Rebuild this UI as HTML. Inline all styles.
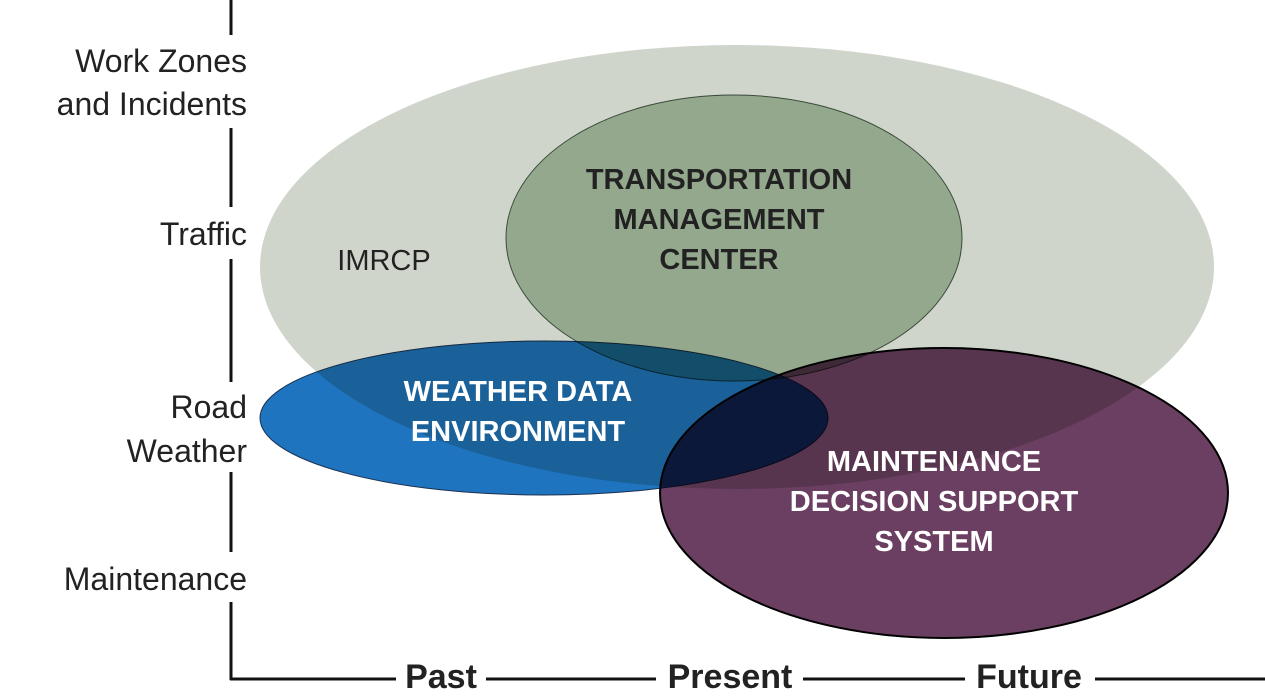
<!DOCTYPE html>
<html><head><meta charset="utf-8"><style>
html,body{margin:0;padding:0;background:#fff;}
svg{display:block;}
text{font-family:"Liberation Sans",sans-serif;}
</style></head><body>
<svg width="1265" height="699" viewBox="0 0 1265 699" xmlns="http://www.w3.org/2000/svg">
<rect width="1265" height="699" fill="#fff"/>
<g style="isolation:isolate">
<ellipse cx="737" cy="267" rx="477" ry="222" fill="#d0d5cc"/>
<ellipse cx="734" cy="238" rx="228" ry="143" fill="#94a88e" stroke="#3a4a3a" stroke-width="1"/>
<ellipse cx="544" cy="418" rx="284" ry="77" fill="#1f74bf" stroke="#1a3050" stroke-width="1" style="mix-blend-mode:multiply"/>
<ellipse cx="944" cy="493" rx="284" ry="145" fill="#6a3f61" stroke="#000" stroke-width="2" style="mix-blend-mode:multiply"/>
</g>
<g font-size="29" fill="#222" text-anchor="middle" font-weight="bold">
<text x="719" y="189">TRANSPORTATION</text>
<text x="719" y="229">MANAGEMENT</text>
<text x="719" y="269">CENTER</text>
</g>
<text x="384" y="270" font-size="29" fill="#222" text-anchor="middle">IMRCP</text>
<g font-size="29" fill="#fff" text-anchor="middle" font-weight="bold">
<text x="518" y="401">WEATHER DATA</text>
<text x="518" y="441">ENVIRONMENT</text>
<text x="934" y="471">MAINTENANCE</text>
<text x="934" y="511">DECISION SUPPORT</text>
<text x="934" y="551">SYSTEM</text>
</g>
<g stroke="#111" stroke-width="3" fill="none">
<line x1="231" y1="0" x2="231" y2="35"/>
<line x1="231" y1="128" x2="231" y2="207"/>
<line x1="231" y1="259" x2="231" y2="382"/>
<line x1="231" y1="472" x2="231" y2="552"/>
<line x1="231" y1="602" x2="231" y2="680"/>
<line x1="230" y1="679" x2="396" y2="679"/>
<line x1="486" y1="679" x2="656" y2="679"/>
<line x1="803" y1="679" x2="965" y2="679"/>
<line x1="1095" y1="679" x2="1265" y2="679"/>
</g>
<g font-size="32" fill="#222" text-anchor="end">
<text x="247" y="72">Work Zones</text>
<text x="247" y="115">and Incidents</text>
<text x="247" y="245">Traffic</text>
<text x="247" y="418">Road</text>
<text x="247" y="462">Weather</text>
<text x="247" y="590">Maintenance</text>
</g>
<g font-size="34" fill="#222" font-weight="bold" text-anchor="middle">
<text x="441" y="688">Past</text>
<text x="730" y="688">Present</text>
<text x="1029" y="688">Future</text>
</g>
</svg>
</body></html>
